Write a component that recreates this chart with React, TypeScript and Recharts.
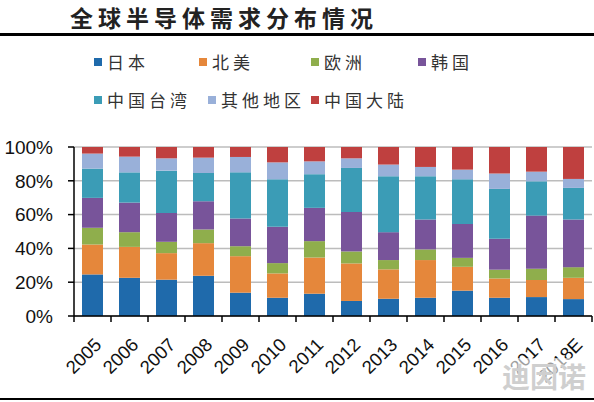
import React from 'react';
import { BarChart, Bar, XAxis, YAxis, CartesianGrid, Legend } from 'recharts';

const CATEGORIES = ['2005', '2006', '2007', '2008', '2009', '2010', '2011', '2012', '2013', '2014', '2015', '2016', '2017', '2018E'];

const JAPAN = [24.6, 22.6, 21.5, 23.8, 13.8, 10.8, 13.2, 8.9, 10.2, 10.8, 15.0, 10.8, 11.2, 10.0];
const NORTH_AMERICA = [17.7, 18.3, 15.7, 19.3, 21.6, 14.4, 21.4, 22.2, 17.4, 22.3, 14.1, 11.4, 10.1, 12.6];
const EUROPE = [9.9, 8.7, 6.7, 8.1, 5.9, 6.1, 9.7, 7.1, 5.5, 6.3, 5.3, 5.2, 6.7, 6.3];
const KOREA = [17.7, 17.5, 17.1, 16.7, 16.4, 21.5, 19.7, 23.4, 16.5, 17.7, 20.1, 18.3, 31.4, 28.2];
const TAIWAN = [17.3, 17.9, 25.0, 16.7, 27.3, 28.1, 19.9, 26.0, 33.1, 25.6, 26.4, 29.5, 20.3, 18.7];
const OTHERS = [8.9, 9.3, 7.3, 9.1, 9.1, 10.0, 7.6, 5.7, 6.9, 5.5, 5.7, 9.1, 5.7, 5.3];
const MAINLAND = [3.9, 5.7, 6.7, 6.3, 5.9, 9.1, 8.5, 6.7, 10.4, 11.8, 13.4, 15.7, 14.6, 18.9];

const Y_TICKS = [0, 0.2, 0.4, 0.6, 0.8, 1];

const SERIES = [
  { key: 'japan', name: '日本', values: JAPAN, color: '#1f6aab' },
  { key: 'na', name: '北美', values: NORTH_AMERICA, color: '#e5873b' },
  { key: 'eu', name: '欧洲', values: EUROPE, color: '#8fae4c' },
  { key: 'kr', name: '韩国', values: KOREA, color: '#78549a' },
  { key: 'tw', name: '中国台湾', values: TAIWAN, color: '#3b9cb6' },
  { key: 'other', name: '其他地区', values: OTHERS, color: '#99b0d9' },
  { key: 'cn', name: '中国大陆', values: MAINLAND, color: '#bf403f' },
];

const data = CATEGORIES.map((c, i) => {
  const row: Record<string, string | number> = { year: c };
  SERIES.forEach((s) => {
    row[s.key] = s.values[i];
  });
  return row;
});

const W = 594;
const H = 402;
const PLOT_LEFT = 74;
const PLOT_RIGHT = 2;
const PLOT_TOP = 147;
const PLOT_BOTTOM = 86;
const BAND = (W - PLOT_LEFT - PLOT_RIGHT) / CATEGORIES.length;

// legend placement (layout only)
const LEGEND_POS = [
  { x: 94, y: 52 },
  { x: 199, y: 52 },
  { x: 311, y: 52 },
  { x: 418, y: 52 },
  { x: 94, y: 90 },
  { x: 208, y: 90 },
  { x: 311, y: 90 },
];

const CJK = '"Noto Sans CJK SC", "Noto Sans", sans-serif';
const LATIN = '"Liberation Sans", Arial, sans-serif';

function XTick(props: any) {
  const { x, y, payload, index } = props;
  const half = BAND / 2;
  const tx = x + 10;
  const ty = y + 30;
  return (
    <g>
      <line x1={x - half} x2={x - half} y1={y} y2={y + 6} stroke="#000" strokeWidth={1.5} />
      {index === CATEGORIES.length - 1 && (
        <line x1={x + half} x2={x + half} y1={y} y2={y + 6} stroke="#000" strokeWidth={1.5} />
      )}
      <text
        x={tx}
        y={ty}
        transform={`rotate(-45, ${tx}, ${ty})`}
        textAnchor="end"
        fontSize={18.5}
        fill="#111"
        fontFamily={LATIN}
      >
        {payload.value}
      </text>
    </g>
  );
}

function LegendContent() {
  return (
    <div style={{ position: 'relative', width: W, height: 120 }}>
      {SERIES.map((s, i) => (
        <div
          key={s.key}
          style={{
            position: 'absolute',
            left: LEGEND_POS[i].x,
            top: LEGEND_POS[i].y,
            display: 'flex',
            alignItems: 'center',
            whiteSpace: 'nowrap',
          }}
        >
          <span style={{ display: 'inline-block', width: 8, height: 8, background: s.color, marginRight: 5 }} />
          <span style={{ fontFamily: CJK, fontSize: 17, letterSpacing: 4, color: '#333', lineHeight: '20px' }}>
            {s.name}
          </span>
        </div>
      ))}
    </div>
  );
}

export default function App() {
  return (
    <div style={{ position: 'absolute', left: 0, top: 0, width: W, height: H, background: '#fff', overflow: 'hidden' }}>
      <div
        style={{
          position: 'absolute',
          left: 70,
          top: 0,
          fontFamily: CJK,
          fontWeight: 700,
          fontSize: 23,
          letterSpacing: 5,
          color: '#222',
          lineHeight: 'normal',
          whiteSpace: 'nowrap',
        }}
      >
        全球半导体需求分布情况
      </div>
      <div style={{ position: 'absolute', left: 0, top: 33, width: W, height: 3, background: '#000' }} />
      <div style={{ position: 'absolute', left: 0, top: 398, width: W, height: 2, background: '#000' }} />
      <BarChart
        width={W}
        height={H}
        data={data}
        stackOffset="expand"
        margin={{ top: PLOT_TOP, right: PLOT_RIGHT, bottom: 0, left: 0 }}
      >
        <CartesianGrid vertical={false} stroke="#bcbcbc" strokeWidth={1.5} />
        <XAxis
          dataKey="year"
          interval={0}
          height={PLOT_BOTTOM}
          tickSize={0}
          tickMargin={0}
          tickLine={false}
          axisLine={{ stroke: '#000', strokeWidth: 1.5 }}
          tick={<XTick />}
        />
        <YAxis
          width={PLOT_LEFT}
          domain={[0, 1]}
          ticks={Y_TICKS}
          tickFormatter={(v: number) => `${Math.round(v * 100)}%`}
          tickSize={6}
          tickMargin={15}
          tickLine={{ stroke: '#000', strokeWidth: 1.5 }}
          axisLine={{ stroke: '#000', strokeWidth: 1.5 }}
          tick={{ fontSize: 19, fill: '#111', fontFamily: LATIN }}
        />
        <Legend
          layout="vertical"
          align="center"
          verticalAlign="middle"
          content={<LegendContent />}
          wrapperStyle={{ top: 0, left: 0, width: W, height: 120 }}
        />
        {SERIES.map((s) => (
          <Bar
            key={s.key}
            dataKey={s.key}
            name={s.name}
            stackId="a"
            fill={s.color}
            barSize={21}
            isAnimationActive={false}
          />
        ))}
      </BarChart>
      <div
        style={{
          position: 'absolute',
          left: 502,
          top: 358,
          fontFamily: CJK,
          fontWeight: 700,
          fontSize: 28,
          color: '#cfcfcf',
          lineHeight: '36px',
          whiteSpace: 'nowrap',
          background: 'rgba(255,255,255,0.6)',
        }}
      >
        迪因诺
      </div>
    </div>
  );
}
